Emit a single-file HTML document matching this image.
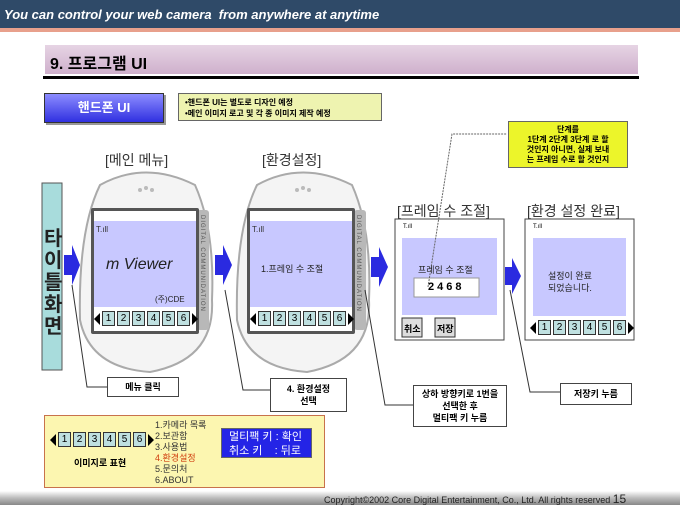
<!DOCTYPE html>
<html><head><meta charset="utf-8"><style>
body{margin:0;width:680px;height:510px;position:relative;background:#fff;overflow:hidden;font-family:"Liberation Sans","Noto Sans CJK KR",sans-serif}
.a{position:absolute}
.box{position:absolute;border:1px solid #444;background:#fff;font-size:9px;font-weight:bold;text-align:center;display:flex;align-items:center;justify-content:center;line-height:12px}
.keys{position:absolute;display:flex;align-items:center;gap:2px}
.keys span{display:inline-block;width:11px;height:13px;background:#bfe0e0;border:1px solid #333;font-size:10px;line-height:13px;text-align:center;color:#000}
.tl{border-top:6px solid transparent;border-bottom:6px solid transparent;border-right:6px solid #000;width:0;height:0}
.tr{border-top:6px solid transparent;border-bottom:6px solid transparent;border-left:6px solid #000;width:0;height:0}
.lbl{position:absolute;font-size:14px;color:#333}
</style></head><body>
<div class="a" style="left:0;top:0;width:680px;height:28px;background:#2f4a68"></div>
<div class="a" style="left:0;top:28px;width:680px;height:4px;background:#e8a08c"></div>
<div class="a" style="left:4px;top:7px;color:#fff;font-size:13px;font-weight:bold;font-style:italic">You can control your web camera&nbsp; from anywhere at anytime</div>

<div class="a" style="left:45px;top:45px;width:593px;height:29px;background:linear-gradient(#e6d4e4,#cfb0cc)"></div>
<div class="a" style="left:50px;top:50px;font-size:16px;font-weight:bold;color:#000">9. 프로그램 UI</div>
<div class="a" style="left:43px;top:76px;width:596px;height:3px;background:#000"></div>

<div class="a" style="left:44px;top:93px;width:118px;height:28px;background:linear-gradient(#8c8cff,#3030e0);border:1px solid #333;box-shadow:2px 2px 0 #999;color:#fff;font-size:13px;font-weight:bold;text-align:center;line-height:28px">핸드폰 UI</div>
<div class="a" style="left:178px;top:93px;width:204px;height:28px;background:#eef3b0;border:1px solid #666;font-size:8px;font-weight:bold;line-height:11px;padding:3px 0 0 6px;box-sizing:border-box">•핸드폰 UI는 별도로 디자인 예정<br>•메인 이미지 로고 및 각 종 이미지 제작 예정</div>
<div class="a" style="left:508px;top:121px;width:120px;height:47px;background:#ecf52a;border:1px solid #666;font-size:8px;font-weight:bold;line-height:10px;text-align:center;padding-top:3px;box-sizing:border-box">단계를<br>1단계 2단계 3단계 로 할<br>것인지 아니면, 실제 보내<br>는 프레임 수로 할 것인지</div>

<div class="lbl" style="left:105px;top:150px">[메인 메뉴]</div>
<div class="lbl" style="left:262px;top:150px">[환경설정]</div>
<div class="lbl" style="left:397px;top:201px">[프레임 수 조절]</div>
<div class="lbl" style="left:527px;top:201px">[환경 설정 완료]</div>

<svg class="a" style="left:0;top:0" width="680" height="510">
<g fill="#f4f4f4" stroke="#aaa" stroke-width="2">
<path d="M100 185 Q145 160 195 185 Q215 230 212 300 Q215 360 150 372 Q90 368 80 320 Q78 230 100 185Z"/>
<path d="M257 185 Q302 160 352 185 Q372 230 369 300 Q372 360 307 372 Q247 368 237 320 Q235 230 257 185Z"/>
</g>
<g fill="#bbb"><circle cx="140" cy="190" r="2"/><circle cx="146" cy="188" r="2"/><circle cx="152" cy="190" r="2"/><circle cx="297" cy="190" r="2"/><circle cx="303" cy="188" r="2"/><circle cx="309" cy="190" r="2"/></g>
<g fill="#b8b8b8"><rect x="197" y="210" width="12" height="120" rx="3"/><rect x="354" y="210" width="12" height="120" rx="3"/></g>
<g fill="#555"><rect x="91" y="208" width="108" height="126" rx="2"/><rect x="247" y="208" width="108" height="126" rx="2"/></g>
<g fill="#fff"><rect x="94" y="211" width="102" height="10"/><rect x="250" y="211" width="102" height="10"/></g>
<g fill="#c8c8ff"><rect x="94" y="221" width="102" height="86"/><rect x="250" y="221" width="102" height="86"/></g>
<g fill="#fff"><rect x="94" y="307" width="102" height="24"/><rect x="250" y="307" width="102" height="24"/></g>
<!-- left title bar -->
<rect x="42" y="183" width="20" height="187" fill="#a8dcdc" stroke="#555"/>
<!-- blue arrows -->
<g fill="#2a2ae0">
<path d="M64 255 H72 V245 L80 265 L72 285 V275 H64Z"/>
<path d="M215 255 H223 V245 L232 265 L223 285 V275 H215Z"/>
<path d="M371 257 H379 V247 L388 267 L379 287 V277 H371Z"/>
<path d="M505 267 H512 V258 L521 276 L512 294 V285 H505Z"/>
</g>
<!-- screens 3/4 -->
<rect x="395" y="219" width="109" height="121" fill="#fff" stroke="#444"/>
<rect x="402" y="238" width="95" height="77" fill="#c8c8ff"/>
<rect x="414" y="278" width="65" height="19" fill="#fff" stroke="#999"/>
<rect x="402" y="318" width="20" height="19" fill="#ddd" stroke="#333"/>
<rect x="435" y="318" width="20" height="19" fill="#ddd" stroke="#333"/>
<rect x="525" y="219" width="109" height="121" fill="#fff" stroke="#444"/>
<rect x="533" y="238" width="93" height="78" fill="#c8c8ff"/>
<!-- leader lines -->
<g fill="none" stroke="#333" stroke-width="1">
<polyline points="72,285 87,387 107,387"/>
<polyline points="225,290 243,390 270,390"/>
<polyline points="365,290 385,405 413,405"/>
<polyline points="510,290 530,392 560,392"/>
</g>
<polyline points="428,287 452,134 507,134" fill="none" stroke="#666" stroke-dasharray="2,1"/>
<!-- footer -->
<defs><linearGradient id="f" x1="0" y1="0" x2="0" y2="1"><stop offset="0" stop-color="#fff"/><stop offset=".5" stop-color="#bbb"/><stop offset="1" stop-color="#888"/></linearGradient></defs>
<rect x="0" y="491" width="680" height="14" fill="url(#f)"/>
</svg>

<div class="a" style="left:44px;top:228px;font-size:20px;line-height:22px;font-weight:bold;color:#222;width:18px;text-align:center">타<br>이<br>틀<br>화<br>면</div>

<div class="a" style="left:96px;top:225px;font-size:8px;color:#333">T.ıll</div>
<div class="a" style="left:252px;top:225px;font-size:8px;color:#333">T.ıll</div>
<div class="a" style="left:106px;top:256px;font-size:16px;font-style:italic;color:#222">m Viewer</div>
<div class="a" style="left:155px;top:294px;font-size:8px;color:#222">(주)CDE</div>
<div class="a" style="left:261px;top:262px;font-size:9px;color:#222">1.프레임 수 조절</div>
<div class="a" style="left:199px;top:215px;font-size:6px;color:#555;writing-mode:vertical-rl;letter-spacing:1px">DIGITAL COMMUNIDATION</div>
<div class="a" style="left:355px;top:215px;font-size:6px;color:#555;writing-mode:vertical-rl;letter-spacing:1px">DIGITAL COMMUNIDATION</div>

<div class="keys" style="left:94px;top:311px"><i class="tl"></i><span>1</span><span>2</span><span>3</span><span>4</span><span>5</span><span>6</span><i class="tr"></i></div>
<div class="keys" style="left:250px;top:311px"><i class="tl"></i><span>1</span><span>2</span><span>3</span><span>4</span><span>5</span><span>6</span><i class="tr"></i></div>
<div class="keys" style="left:530px;top:320px"><i class="tl"></i><span>1</span><span>2</span><span>3</span><span>4</span><span>5</span><span>6</span><i class="tr"></i></div>

<div class="a" style="left:403px;top:224px;font-size:6px">T.ıll</div>
<div class="a" style="left:533px;top:224px;font-size:6px">T.ıll</div>
<div class="a" style="left:418px;top:263px;font-size:9px;color:#222">프레임 수 조절</div>
<div class="a" style="left:428px;top:281px;font-size:11px;font-weight:bold;letter-spacing:3px">2468</div>
<div class="a" style="left:404px;top:322px;font-size:9px;font-weight:bold">취소</div>
<div class="a" style="left:437px;top:322px;font-size:9px;font-weight:bold">저장</div>
<div class="a" style="left:548px;top:270px;font-size:9px;color:#222;text-align:center;line-height:12px">설정이 완료<br>되었습니다.</div>

<div class="box" style="left:107px;top:377px;width:70px;height:18px">메뉴 클릭</div>
<div class="box" style="left:270px;top:378px;width:75px;height:32px">4. 환경설정<br>선택</div>
<div class="box" style="left:413px;top:385px;width:92px;height:40px">상하 방향키로 1번을<br>선택한 후<br>멀티팩 키 누름</div>
<div class="box" style="left:560px;top:383px;width:70px;height:20px">저장키 누름</div>

<div class="a" style="left:44px;top:415px;width:281px;height:73px;background:#fcf6b0;border:1px solid #c8724c;box-sizing:border-box"></div>
<div class="keys" style="left:50px;top:432px"><i class="tl"></i><span>1</span><span>2</span><span>3</span><span>4</span><span>5</span><span>6</span><i class="tr"></i></div>
<div class="a" style="left:74px;top:456px;font-size:9px;font-weight:bold">이미지로 표현</div>
<div class="a" style="left:155px;top:420px;font-size:9px;line-height:11px;color:#333">1.카메라 목록<br>2.보관함<br>3.사용법<br><span style="color:#d04010">4.환경설정</span><br>5.문의처<br>6.ABOUT</div>
<div class="a" style="left:221px;top:428px;width:91px;height:30px;background:#2424e6;border:1px solid #666;color:#fff;font-size:11px;line-height:14px;padding:1px 0 0 7px;box-sizing:border-box">멀티팩 키 : 확인<br>취소 키&nbsp;&nbsp;&nbsp; : 뒤로</div>

<div class="a" style="left:324px;top:492px;font-size:9px;color:#222">Copyright©2002 Core Digital Entertainment, Co., Ltd. All rights reserved <span style="font-size:12px">15</span></div>
</body></html>
